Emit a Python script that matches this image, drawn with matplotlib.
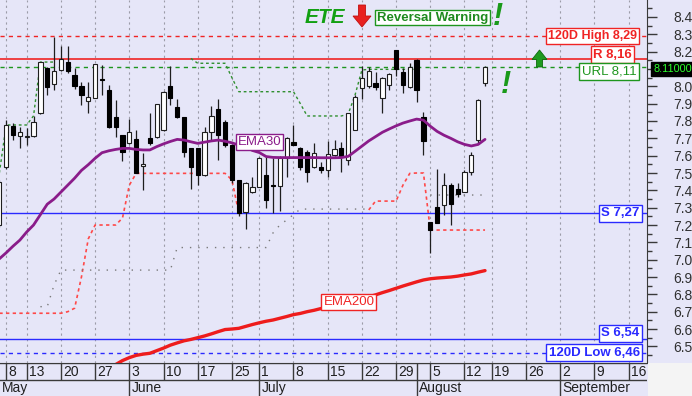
import numpy as np
import pandas as pd
import matplotlib
matplotlib.use("Agg")
import matplotlib.pyplot as plt
import matplotlib.transforms as mtransforms
from matplotlib.patches import Polygon, Rectangle

plt.rcParams['font.family'] = ['Liberation Sans', 'DejaVu Sans']

# ---------------- calendar (trading days) ----------------
holidays = ['2024-06-24', '2024-08-15']
days = [d for d in pd.bdate_range('2024-05-07', '2024-09-20')
        if d.strftime('%Y-%m-%d') not in holidays]

# ---------------- candles: 7 May .. 16 Aug ----------------
opens = [7.20, 7.533, 7.773, 7.713, 7.705, 7.713, 7.844, 8.104, 8.011, 8.094,
         8.138, 8.065, 8.002, 7.917, 7.934, 8.042, 7.979, 7.821, 7.719, 7.671,
         7.694, 7.541, 7.700, 7.706, 7.748, 8.002, 7.879, 7.821, 7.642, 7.642,
         7.488, 7.738, 7.867, 7.796, 7.661, 7.460, 7.275, 7.392, 7.421, 7.488,
         7.430, 7.427, 7.585, 7.677, 7.642, 7.623, 7.536, 7.536, 7.520, 7.604,
         7.642, 7.575, 7.748, 7.988, 8.002, 8.017, 7.930, 8.007, 8.209, 8.084,
         7.998, 8.151, 7.821, 7.219, 7.306, 7.315, 7.431, 7.406, 7.392, 7.507,
         7.690, 8.017]
highs = [7.46, 7.806, 7.786, 7.767, 7.757, 7.829, 8.140, 8.113, 8.286, 8.232,
         8.232, 8.104, 8.027, 8.027, 8.130, 8.123, 8.007, 7.921, 7.720, 7.809,
         7.748, 7.613, 7.844, 7.900, 7.975, 8.117, 7.925, 7.825, 7.645, 7.645,
         7.767, 7.886, 7.925, 7.806, 7.665, 7.460, 7.450, 7.479, 7.590, 7.594,
         7.585, 7.600, 7.710, 7.777, 7.650, 7.633, 7.671, 7.565, 7.685, 7.690,
         7.680, 7.845, 7.950, 8.117, 8.110, 8.085, 8.056, 8.075, 8.210, 8.103,
         8.136, 8.155, 7.854, 7.220, 7.521, 7.498, 7.440, 7.440, 7.520, 7.620,
         7.925, 8.120]
lows = [7.19, 7.525, 7.690, 7.642, 7.661, 7.710, 7.840, 7.950, 7.979, 8.088,
        8.075, 7.982, 7.892, 7.848, 7.930, 7.950, 7.760, 7.710, 7.571, 7.665,
        7.500, 7.402, 7.661, 7.700, 7.740, 7.892, 7.815, 7.594, 7.406, 7.431,
        7.485, 7.690, 7.575, 7.652, 7.440, 7.250, 7.177, 7.383, 7.420, 7.300,
        7.271, 7.280, 7.479, 7.660, 7.520, 7.450, 7.530, 7.498, 7.479, 7.600,
        7.508, 7.546, 7.746, 7.925, 7.990, 7.980, 7.848, 7.980, 8.060, 7.963,
        7.990, 7.911, 7.604, 7.037, 7.210, 7.258, 7.200, 7.360, 7.390, 7.490,
        7.670, 8.000]
closes = [7.45, 7.777, 7.719, 7.738, 7.712, 7.796, 8.138, 7.994, 8.088, 8.157,
          8.088, 8.002, 7.950, 7.936, 8.128, 8.035, 7.763, 7.763, 7.623, 7.738,
          7.502, 7.550, 7.671, 7.898, 7.969, 7.930, 7.821, 7.623, 7.536, 7.488,
          7.738, 7.829, 7.719, 7.661, 7.460, 7.271, 7.440, 7.421, 7.585, 7.344,
          7.425, 7.585, 7.700, 7.661, 7.536, 7.508, 7.617, 7.517, 7.607, 7.640,
          7.598, 7.844, 7.940, 8.050, 8.088, 7.994, 8.050, 8.071, 8.098, 8.007,
          8.109, 7.979, 7.684, 7.171, 7.213, 7.431, 7.321, 7.379, 7.508, 7.604,
          7.921, 8.110]

ema30 = [7.005, 7.040, 7.078, 7.113, 7.160, 7.200, 7.260, 7.320, 7.350, 7.390,
         7.430, 7.470, 7.515, 7.548, 7.585, 7.617, 7.628, 7.636, 7.642, 7.642,
         7.636, 7.633, 7.633, 7.652, 7.668, 7.682, 7.694, 7.690, 7.680, 7.671,
         7.678, 7.685, 7.690, 7.683, 7.674, 7.661, 7.650, 7.630, 7.618, 7.595,
         7.590, 7.589, 7.589, 7.589, 7.589, 7.589, 7.589, 7.588, 7.588, 7.588,
         7.589, 7.596, 7.625, 7.655, 7.685, 7.710, 7.735, 7.754, 7.772, 7.788,
         7.800, 7.811, 7.805, 7.770, 7.740, 7.718, 7.700, 7.680, 7.665, 7.656,
         7.665, 7.694]
nan = np.nan
ema200 = [nan] * 16 + [
    6.370, 6.395, 6.418, 6.435, 6.448, 6.455, 6.460, 6.475, 6.490, 6.507,
    6.520, 6.532, 6.540, 6.550, 6.560, 6.572, 6.585, 6.597, 6.600, 6.604,
    6.615, 6.626, 6.636, 6.645, 6.652, 6.662, 6.672, 6.683, 6.690, 6.700,
    6.708, 6.718, 6.726, 6.734, 6.742, 6.750, 6.762, 6.775, 6.786, 6.797,
    6.810, 6.822, 6.835, 6.848, 6.860, 6.872, 6.883, 6.890, 6.894, 6.897,
    6.900, 6.905, 6.912, 6.918, 6.928, 6.937]

upper_stop = ([7.50, 7.777, 7.777, 7.777, 7.777, 7.83, 8.14, 8.14, 8.14] + [nan] * 19 +
              [8.161, 8.133, 8.133, 8.133, 8.133, 8.133, 8.05] + [7.969] * 9 +
              [7.90] + [7.829] * 6 + [7.84, 7.95, 8.094] + [8.098] * 8 + [nan] * 10)
lower_stop = ([6.691] * 10 + [6.70, 6.72, 6.90, 7.12, 7.20, 7.20, 7.20, 7.20, 7.24, 7.43] +
              [7.498] * 14 + [7.46, 7.27] + [nan] * 18 +
              [7.287, 7.338, 7.338, 7.338, 7.338, 7.43, 7.498, 7.50, 7.50] + [7.171] * 9)
lower_band = ([nan] * 6 + [6.729, 6.729, 6.854] + [6.94] * 17 + [7.07] * 14 +
              [7.154, 7.20, 7.229, 7.26] + [7.292] * 11 + [nan] * 8 + [7.373] * 9)

levels = [8.29, 8.16, 8.11, 7.27, 6.54, 6.46]
level_labels = ['120D High 8,29', 'R 8,16', 'URL 8,11', 'S 7,27', 'S 6,54', '120D Low 6,46']
last_price_label = '8.11000'

week_ticks = ['2024-05-08', '2024-05-13', '2024-05-20', '2024-05-27', '2024-06-03',
              '2024-06-10', '2024-06-17', '2024-06-25', '2024-07-01', '2024-07-08',
              '2024-07-15', '2024-07-22', '2024-07-29', '2024-08-05', '2024-08-12',
              '2024-08-19', '2024-08-26', '2024-09-02', '2024-09-09', '2024-09-16']
month_names = ['May', 'June', 'July', 'August', 'September']

# ---------------- styling ----------------
BG = '#e6e6f8'
RED = '#f02424'
GREEN = '#1e961e'
BLUE = '#2a2aff'
PURPLE = '#8a1c8a'
DARK = '#3a3a3a'
W, H = 692, 396

fig = plt.figure(figsize=(W / 100, H / 100), dpi=100, facecolor=BG)
ax = fig.add_axes([0, 33 / H, 647 / W, 363 / H])
ax.set_facecolor(BG)
ax.set_xlim(0.094, 94.68)
ax.set_ylim(6.404, 8.498)

def fx(px):
    return px / W

def fy(py):
    return 1 - py / H

day_index = {d.strftime('%Y-%m-%d'): i for i, d in enumerate(days)}
tick_idx = [day_index[t] for t in week_ticks]
month_start_idx = []
prev_m = None
for i, d in enumerate(days):
    if d.month != prev_m:
        if prev_m is not None:
            month_start_idx.append(i)
        prev_m = d.month

# vertical grid
for t in tick_idx:
    ax.axvline(t, color='#9c9ca8', lw=0.8, ls=(0, (2, 3)), zorder=1)

x = np.arange(len(opens))
o, h, l, c = map(np.array, (opens, highs, lows, closes))

# level lines
lvl_styles = [dict(color=RED, ls=(0, (3, 3)), lw=1.0),
              dict(color=RED, ls='-', lw=1.2),
              dict(color=GREEN, ls=(0, (3, 3)), lw=1.0),
              dict(color=BLUE, ls='-', lw=1.0),
              dict(color=BLUE, ls='-', lw=1.0),
              dict(color=BLUE, ls=(0, (3, 3)), lw=1.0)]
for v, st in zip(levels, lvl_styles):
    ax.axhline(v, zorder=2, **st)

# indicator dotted lines
ax.plot(x, upper_stop, color='#2f8f2f', lw=1.0, ls=(0, (2, 2)), zorder=2)
ax.plot(x, lower_stop, color='#ff4848', lw=1.2, ls=(0, (2, 2)), zorder=2)
ax.plot(x, lower_band, color='#7a7a7a', lw=1.0, ls=(0, (1, 5)), zorder=2)

# candles
up = c >= o
ax.vlines(x, l, h, color='#1e1e1e', lw=0.9, zorder=3)
ax.bar(x[up], np.maximum((c - o)[up], 0.004), bottom=o[up], width=0.62,
       color='white', edgecolor='#1e1e1e', lw=0.8, zorder=4)
ax.bar(x[~up], np.maximum((o - c)[~up], 0.004), bottom=c[~up], width=0.62,
       color='black', edgecolor='black', lw=0.8, zorder=4)

# moving averages
ax.plot(x, ema30, color=PURPLE, lw=2.0, zorder=5, solid_capstyle='round')
ax.plot(x, ema200, color='#ee1c1c', lw=2.4, zorder=5, solid_capstyle='round')

# axes / ticks
for s in ['left', 'top']:
    ax.spines[s].set_visible(False)
ax.spines['right'].set_color(DARK)
ax.spines['bottom'].set_color(DARK)
ax.set_xticks([])
ax.yaxis.tick_right()
yt = np.round(np.arange(6.5, 8.41, 0.1), 2)
ax.set_yticks(yt)
ax.set_yticklabels(['' if abs(v - 8.1) < 1e-6 else f'{v:.1f}' for v in yt])
ax.set_yticks(np.round(np.arange(6.45, 8.5, 0.1), 2), minor=True)
ax.tick_params(axis='y', which='major', length=7, width=1, color=DARK,
               labelsize=10, labelcolor='#303030', pad=12)
ax.tick_params(axis='y', which='minor', length=3.5, width=1, color=DARK)

# level labels (right side)
lbl_pos = [(640, 36.0), (634.7, 54.7), (639.3, 71.7), (642.7, 213.5), (642.7, 333.3), (642.7, 352.5)]
lbl_cols = [RED, RED, GREEN, BLUE, BLUE, BLUE]
lbl_w = ['bold', 'bold', 'normal', 'bold', 'bold', 'bold']
lbl_fs = [9.0, 9.5, 9.5, 9.5, 9.5, 9.5]
for (px, py), txt, col, wt, fs in zip(lbl_pos, level_labels, lbl_cols, lbl_w, lbl_fs):
    fig.text(fx(px - 3), fy(py), txt, ha='right', va='center', fontsize=fs,
             color=col, fontweight=wt,
             bbox=dict(boxstyle='square,pad=0.18', fc='white', ec=col, lw=1.0))

# last price box
fig.text(fx(653), fy(68.7), last_price_label, ha='left', va='center', fontsize=7.8,
         color='#2cff2c', bbox=dict(boxstyle='square,pad=0.2', fc='black', ec='black'))

# MA labels
fig.text(fx(259.7), fy(141.7), 'EMA30', ha='center', va='center', fontsize=9.5,
         color=PURPLE, bbox=dict(boxstyle='square,pad=0.15', fc='white', ec=PURPLE, lw=1.0))
fig.text(fx(348.9), fy(301.7), 'EMA200', ha='center', va='center', fontsize=9.5,
         color=RED, bbox=dict(boxstyle='square,pad=0.15', fc='white', ec=RED, lw=1.0))

# top annotations
fig.text(fx(325), fy(17.5), 'ETE', ha='center', va='center', fontsize=15,
         fontweight='bold', fontstyle='italic', color='#12a012')
fig.text(fx(432.8), fy(17.5), 'Reversal Warning', ha='center', va='center', fontsize=9.5,
         fontweight='bold', color='#1e8a1e',
         bbox=dict(boxstyle='square,pad=0.15', fc='white', ec='#1e961e', lw=1.0))
fig.text(fx(498), fy(17), '!', ha='center', va='center', fontsize=22,
         fontweight='bold', fontstyle='italic', color='#1a9a1a')
fig.text(fx(506), fy(85), '!', ha='center', va='center', fontsize=22,
         fontweight='bold', fontstyle='italic', color='#1a9a1a')

def pxpoly(pts, **kw):
    return Polygon([(fx(a), fy(b)) for a, b in pts], closed=True,
                   transform=fig.transFigure, **kw)

fig.patches.append(pxpoly([(358.5, 5), (365.5, 5), (365.5, 16), (371, 16), (362, 27),
                           (353, 16), (358.5, 16)], fc='#e82020', ec='#c01010', lw=0.6))
fig.patches.append(pxpoly([(539.5, 50), (547, 59.5), (542.5, 59.5), (542.5, 67),
                           (536.5, 67), (536.5, 59.5), (532, 59.5)],
                          fc='#1f9a1f', ec='#0d6a0d', lw=0.6))

# ---------------- date axis ----------------
ax2 = fig.add_axes([0, 0, 647 / W, 33 / H], sharex=None)
ax2.set_xlim(ax.get_xlim())
ax2.set_ylim(0, 33)
ax2.set_facecolor(BG)
ax2.axis('off')
ax2.add_patch(Rectangle((ax.get_xlim()[0], 0), 200, 33, fc=BG, ec='none', zorder=0))
ax2.axhline(16, color=DARK, lw=1.0, zorder=2)
ax2.axhline(32.6, color=DARK, lw=1.0, zorder=2)
off = mtransforms.ScaledTranslation(2 / 100, 0, fig.dpi_scale_trans)
for t in sorted(set(tick_idx + month_start_idx)):
    ax2.vlines(t, 16, 33, color=DARK, lw=1.0, zorder=2)
for t in tick_idx:
    ax2.text(t, 24.3, str(days[t].day), ha='left', va='center', fontsize=10,
             color='#202020', transform=ax2.transData + off)
for t in month_start_idx:
    ax2.vlines(t, 0, 16, color=DARK, lw=1.0, zorder=2)
month_pos = [ax.get_xlim()[0]] + month_start_idx
for t, name in zip(month_pos, month_names):
    ax2.text(t, 7.8, name, ha='left', va='center', fontsize=10, color='#202020',
             transform=ax2.transData + off)

fig.patches.append(Rectangle((fx(647.5), 0), 1, 33 / H, transform=fig.transFigure,
                             fc='#f4f4f4', ec='none'))

fig.savefig('out.png', dpi=100, facecolor=fig.get_facecolor())
